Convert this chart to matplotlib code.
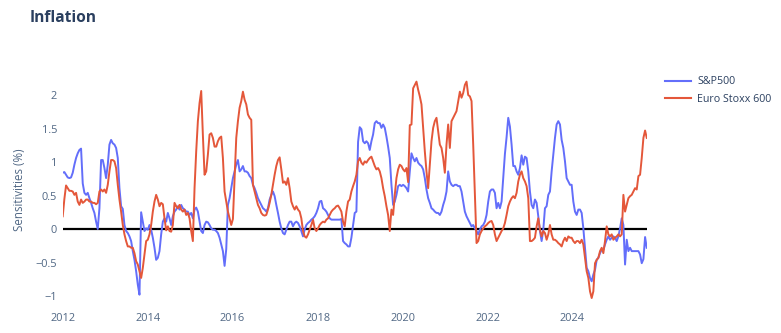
import matplotlib
matplotlib.use("Agg")
import matplotlib.pyplot as plt
import numpy as np
import pandas as pd

# Rolling inflation sensitivities (%), sampled on an even grid between the first and last observation
start_date = "2012-01-01"
end_date = "2025-10-01"

sp500 = [
    # 2012 - 2015
    0.84, 0.85, 0.81, 0.77, 0.76, 0.77, 0.84, 0.96, 1.06, 1.13, 1.18, 1.20, 0.68, 0.54, 0.51, 0.54,
    0.46, 0.39, 0.31, 0.24, 0.11, 0.00, 0.31, 1.03, 1.03, 0.91, 0.76, 0.96, 1.26, 1.33, 1.28, 1.26,
    1.21, 1.06, 0.61, 0.34, 0.30, 0.06, -0.03, -0.06, -0.11, -0.18, -0.33, -0.46, -0.63, -0.83, -0.98, 0.25,
    0.11, -0.03, 0.01, -0.01, 0.06, -0.01, -0.13, -0.28, -0.46, -0.43, -0.33, -0.08, 0.11, 0.16, 0.11, 0.24,
    0.16, 0.06, 0.19, 0.26, 0.29, 0.34, 0.29, 0.36, 0.31, 0.29, 0.26, 0.26, 0.21, 0.24, 0.16, 0.29,
    0.32, 0.26, 0.11, -0.03, -0.06, 0.06, 0.11, 0.10,
    # 2015 - 2018
    0.06, 0.01, -0.01, -0.01, -0.03, -0.06, -0.13, -0.23, -0.33, -0.55, -0.30, 0.36, 0.46, 0.61, 0.76, 0.86,
    0.96, 1.03, 0.86, 0.89, 0.94, 0.86, 0.86, 0.84, 0.79, 0.76, 0.66, 0.61, 0.54, 0.46, 0.41, 0.36,
    0.31, 0.29, 0.26, 0.31, 0.44, 0.51, 0.56, 0.49, 0.36, 0.24, 0.11, 0.01, -0.06, -0.08, -0.01, 0.06,
    0.11, 0.11, 0.04, 0.09, 0.11, 0.09, 0.04, -0.03, -0.11, -0.01, 0.06, 0.09, 0.11, 0.14, 0.16, 0.19,
    0.24, 0.31, 0.41, 0.42, 0.31, 0.29, 0.26, 0.21, 0.16, 0.14, 0.14, 0.14, 0.14, 0.14, 0.14, 0.15,
    -0.18, -0.21, -0.23, -0.26, -0.26,
    # 2018 - 2021
    -0.13, 0.06, 0.24, 0.26, 1.30, 1.52, 1.49, 1.31, 1.28, 1.31, 1.28, 1.18, 1.31, 1.41, 1.58, 1.61,
    1.58, 1.58, 1.51, 1.56, 1.51, 1.38, 1.23, 1.06, 0.66, 0.36, 0.41, 0.51, 0.64, 0.66, 0.64, 0.66,
    0.64, 0.61, 0.56, 0.86, 1.13, 1.06, 1.01, 1.06, 0.99, 0.96, 0.94, 0.89, 0.76, 0.59, 0.46, 0.39,
    0.31, 0.29, 0.26, 0.24, 0.24, 0.21, 0.26, 0.36, 0.44, 0.56, 0.86, 0.71, 0.66, 0.64, 0.66, 0.66,
    0.64, 0.64, 0.56, 0.41, 0.26, 0.19, 0.14, 0.09, 0.04, 0.06, 0.01, -0.03, -0.08, -0.01, 0.04, 0.06,
    0.11, 0.21, 0.41, 0.56, 0.59,
    # 2021 - 2025
    0.59, 0.54, 0.31, 0.39, 0.31, 0.41, 0.76, 1.12, 1.37, 1.66, 1.53, 1.26, 0.94, 0.94, 0.86, 0.81,
    0.91, 1.10, 0.96, 1.08, 1.06, 0.86, 0.56, 0.36, 0.31, 0.44, 0.39, 0.19, -0.03, -0.18, -0.01, 0.31,
    0.34, 0.51, 0.56, 0.86, 1.11, 1.36, 1.56, 1.61, 1.56, 1.33, 1.21, 1.01, 0.76, 0.71, 0.66, 0.66,
    0.41, 0.26, 0.21, 0.29, 0.29, 0.24, 0.01, -0.28, -0.58, -0.63, -0.73, -0.78, -0.68, -0.61, -0.46, -0.43,
    -0.36, -0.31, -0.31, -0.23, -0.16, -0.11, -0.16, -0.13, -0.11, -0.13, -0.18, -0.11, 0.01, 0.16, 0.06, -0.53,
    -0.16, -0.33, -0.28, -0.33, -0.33, -0.33, -0.33, -0.33, -0.38, -0.51, -0.45, -0.12, -0.28,
]

stoxx600 = [
    # 2012 - 2015
    0.19, 0.45, 0.65, 0.61, 0.57, 0.57, 0.56, 0.51, 0.54, 0.41, 0.36, 0.44, 0.39, 0.41, 0.44, 0.44,
    0.41, 0.41, 0.39, 0.39, 0.37, 0.39, 0.56, 0.59, 0.56, 0.59, 0.54, 0.66, 0.86, 1.03, 1.03, 1.01,
    0.91, 0.66, 0.44, 0.26, 0.06, -0.08, -0.18, -0.26, -0.26, -0.28, -0.28, -0.36, -0.48, -0.53, -0.63, -0.73,
    -0.58, -0.38, -0.18, -0.16, -0.08, 0.06, 0.26, 0.41, 0.51, 0.44, 0.34, 0.39, 0.37, 0.16, -0.02, 0.04,
    -0.03, -0.04, 0.06, 0.39, 0.34, 0.31, 0.36, 0.29, 0.26, 0.29, 0.21, 0.24, 0.16, -0.03, -0.18, 0.61,
    1.16, 1.61, 1.88, 2.06, 1.40, 0.81, 0.86, 1.11,
    # 2015 - 2018
    1.41, 1.43, 1.36, 1.23, 1.23, 1.31, 1.36, 1.38, 1.06, 0.56, 0.41, 0.26, 0.16, 0.06, 0.15, 0.76,
    1.36, 1.61, 1.81, 1.91, 2.05, 1.93, 1.86, 1.71, 1.66, 1.63, 0.66, 0.56, 0.46, 0.36, 0.31, 0.24,
    0.21, 0.20, 0.21, 0.29, 0.39, 0.51, 0.66, 0.81, 0.94, 1.03, 1.07, 0.89, 0.69, 0.71, 0.66, 0.76,
    0.61, 0.41, 0.34, 0.29, 0.34, 0.29, 0.26, 0.16, -0.03, -0.11, -0.13, -0.08, -0.01, 0.06, 0.14, 0.01,
    -0.03, 0.01, 0.06, 0.09, 0.11, 0.10, 0.14, 0.16, 0.21, 0.26, 0.29, 0.31, 0.34, 0.35, 0.31, 0.26,
    0.11, 0.04, 0.26, 0.41, 0.44,
    # 2018 - 2021
    0.56, 0.64, 0.71, 0.81, 1.01, 1.06, 0.99, 0.96, 1.01, 0.99, 1.03, 1.06, 1.08, 1.01, 0.94, 0.89,
    0.91, 0.86, 0.76, 0.61, 0.49, 0.34, 0.21, -0.03, 0.29, 0.21, 0.51, 0.76, 0.89, 0.96, 0.94, 0.89,
    0.86, 0.91, 0.70, 1.55, 1.56, 2.10, 2.15, 2.20, 2.08, 1.98, 1.86, 1.51, 1.16, 0.86, 0.61, 0.96,
    1.31, 1.51, 1.61, 1.66, 1.46, 1.26, 1.21, 1.06, 0.84, 1.26, 1.56, 1.21, 1.61, 1.66, 1.71, 1.76,
    1.91, 2.05, 1.96, 2.03, 2.15, 2.20, 2.00, 1.98, 1.91, 1.26, 0.51, -0.21, -0.18, -0.08, -0.03, 0.01,
    0.04, 0.06, 0.09, 0.11, 0.12,
    # 2021 - 2025
    0.06, -0.08, -0.18, -0.13, -0.08, -0.03, 0.01, 0.09, 0.21, 0.34, 0.41, 0.46, 0.49, 0.46, 0.54, 0.71,
    0.81, 0.86, 0.76, 0.71, 0.64, 0.46, -0.18, -0.18, -0.16, -0.13, 0.04, 0.16, -0.01, -0.11, -0.03, -0.06,
    -0.16, -0.08, 0.06, -0.08, -0.16, -0.16, -0.18, -0.21, -0.23, -0.26, -0.18, -0.13, -0.18, -0.11, -0.13, -0.13,
    -0.18, -0.21, -0.18, -0.18, -0.21, -0.16, -0.23, -0.43, -0.63, -0.73, -0.93, -1.03, -0.93, -0.51, -0.46, -0.43,
    -0.33, -0.28, -0.36, -0.18, 0.04, -0.08, -0.11, -0.08, -0.16, -0.13, -0.11, -0.08, -0.11, -0.08, 0.51, 0.26,
    0.36, 0.46, 0.49, 0.51, 0.56, 0.61, 0.59, 0.79, 0.81, 1.06, 1.36, 1.47, 1.36,
]

series_names = ["S&P500", "Euro Stoxx 600"]
series_colors = ["#636efa", "#e4573a"]
y_ticks = [-1, -0.5, 0, 0.5, 1, 1.5, 2]
x_tick_years = [2012, 2014, 2016, 2018, 2020, 2022, 2024]

dates = pd.date_range(start_date, end_date, periods=len(sp500))

text_color = "#2a3f5f"
tick_color = "#506784"
font = ["Open Sans", "DejaVu Sans"]
plt.rcParams["font.family"] = font

fig = plt.figure(figsize=(7.81, 3.33), dpi=100)
ax = fig.add_axes([0.0803, 0.0841, 0.7478, 0.6907])

for values, name, color in zip([sp500, stoxx600], series_names, series_colors):
    ax.plot(dates, values, color=color, lw=1.4, label=name, solid_joinstyle="round")

ax.axhline(0, color="black", lw=1.6, zorder=1)

ax.set_xlim(dates[0], dates[-1])
ax.set_ylim(-1.134, 2.299)

ax.set_yticks(y_ticks)
ax.set_yticklabels([("\u2212" + f"{abs(t):g}") if t < 0 else f"{t:g}" for t in y_ticks])
ax.set_xticks([pd.Timestamp(f"{y}-01-01") for y in x_tick_years])
ax.set_xticklabels([str(y) for y in x_tick_years])
ax.tick_params(axis="both", length=0, labelsize=7.9, labelcolor=tick_color)
ax.tick_params(axis="y", pad=4)
ax.tick_params(axis="x", pad=6)
for spine in ax.spines.values():
    spine.set_visible(False)

ax.set_ylabel("Sensitivities (%)", fontsize=8.3, color=tick_color, labelpad=7)

fig.text(0.0385, 0.945, "Inflation", fontsize=11.2, fontweight="bold",
         color=text_color, ha="left", va="center")

leg = fig.legend(loc="upper left", bbox_to_anchor=(0.851, 0.771), frameon=False,
                 fontsize=7.7, handlelength=2.5, handletextpad=0.55, labelspacing=0.64,
                 borderaxespad=0, borderpad=0)
for text in leg.get_texts():
    text.set_color(text_color)
for line in leg.get_lines():
    line.set_linewidth(1.5)

fig.savefig("out.png", dpi=100, facecolor="white")
